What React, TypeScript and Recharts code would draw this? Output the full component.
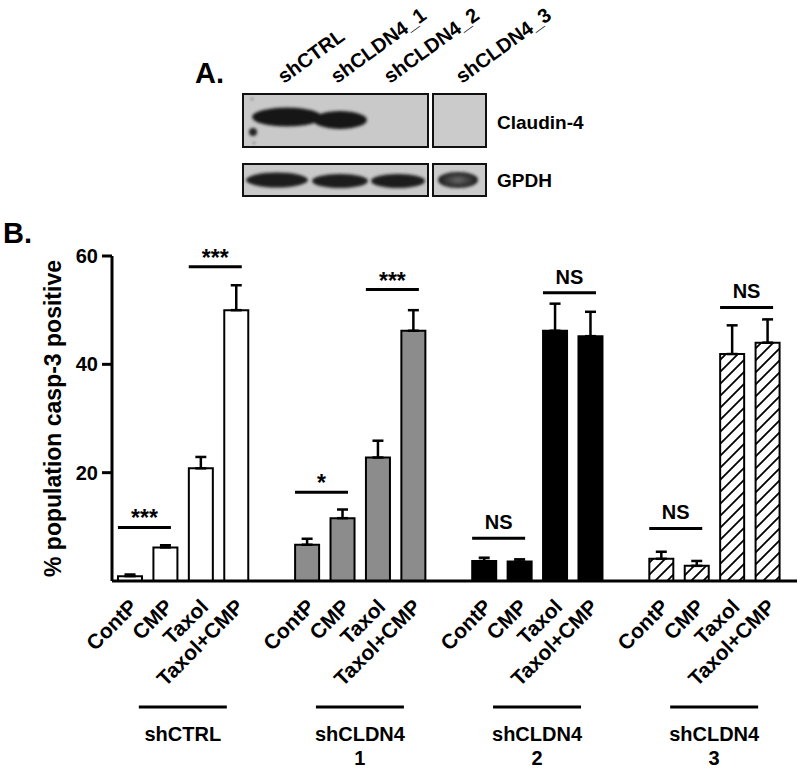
import { Bar, BarChart, Cell, ErrorBar, ReferenceLine, XAxis, YAxis } from "recharts";

const FONT = '"Liberation Sans", Arial, Helvetica, sans-serif';

// groups of cell lines and treatments
const groups = ["shCTRL", "shCLDN4_1", "shCLDN4_2", "shCLDN4_3"];
const groupCaptions = [["shCTRL"], ["shCLDN4", "1"], ["shCLDN4", "2"], ["shCLDN4", "3"]];
const treatments = ["ContP", "CMP", "Taxol", "Taxol+CMP"];

// % population casp-3 positive (mean) and upper error
const meanCtrl = [0.9, 6.2, 20.8, 50.0];
const errCtrl = [0.3, 0.4, 2.1, 4.6];
const meanKd1 = [6.7, 11.6, 22.8, 46.2];
const errKd1 = [1.1, 1.6, 3.1, 3.8];
const meanKd2 = [3.7, 3.6, 46.2, 45.2];
const errKd2 = [0.6, 0.4, 5.0, 4.5];
const meanKd3 = [4.1, 2.8, 41.9, 44.0];
const errKd3 = [1.3, 0.9, 5.3, 4.3];

const means = [meanCtrl, meanKd1, meanKd2, meanKd3];
const errs = [errCtrl, errKd1, errKd2, errKd3];

// significance brackets: ContP vs CMP, Taxol vs Taxol+CMP
const sigPairs = [[0, 1], [2, 3]];
const sigLevels = [[9.9, 58.0], [16.4, 53.8], [7.9, 53.2], [9.7, 50.5]];
const sigTexts = [["***", "***"], ["*", "***"], ["NS", "NS"], ["NS", "NS"]];

const yTicks = [20, 40, 60];

const GROUP_FILLS = ["#ffffff", "#8c8c8c", "#000000", "url(#hatch)"];
const HALF_SLOT = 17.7;

const keyOf = (gi: number, ti: number) => `${groups[gi]}|${treatments[ti]}`;

type Row = { key: string; group: number; label: string; value: number | null; err: number[] | null };

const rows: Row[] = [];
groups.forEach((g, gi) => {
  treatments.forEach((t, ti) => {
    rows.push({ key: keyOf(gi, ti), group: gi, label: t, value: means[gi][ti], err: [0, errs[gi][ti]] });
  });
  if (gi < groups.length - 1) rows.push({ key: `gap${gi}`, group: -1, label: "", value: null, err: null });
});

const XTick = ({ x, y, payload }: any) => {
  const row = rows.find((r) => r.key === payload.value);
  if (!row || row.label === "") return <g />;
  const ax = x + 9;
  const ay = y + 27;
  const cx = x + HALF_SLOT;
  const caption = groupCaptions[row.group];
  return (
    <g>
      <text
        x={ax}
        y={ay}
        transform={`rotate(-45 ${ax} ${ay})`}
        textAnchor="end"
        fontFamily={FONT}
        fontSize={21}
        fontWeight="bold"
        fill="#000"
      >
        {row.label}
      </text>
      {row.label === "CMP" && (
        <g>
          <line x1={cx - 44} x2={cx + 44} y1={y + 126} y2={y + 126} stroke="#000" strokeWidth={3} />
          {caption.map((c, i) => (
            <text
              key={i}
              x={cx}
              y={y + 160 + i * 24}
              textAnchor="middle"
              fontFamily={FONT}
              fontSize={20}
              fontWeight="bold"
              fill="#000"
            >
              {c}
            </text>
          ))}
        </g>
      )}
    </g>
  );
};

const sigShape = (text: string) => (p: any) => {
  const mid = (p.x1 + p.x2) / 2 - 3;
  const stars = text.includes("*");
  return (
    <g>
      <line x1={mid - 26.5} x2={mid + 26.5} y1={p.y1} y2={p.y1} stroke="#000" strokeWidth={3} />
      <text
        x={mid}
        y={p.y1 - (stars ? 1 : 9)}
        textAnchor="middle"
        fontFamily={FONT}
        fontSize={stars ? 23 : 20}
        fontWeight="bold"
        fill="#000"
      >
        {text}
      </text>
    </g>
  );
};

const YLabel = (props: any) => {
  const vb = props.viewBox || { x: 52, y: 256, width: 60, height: 325 };
  const lx = vb.x + 9;
  const ly = vb.y + vb.height / 2;
  return (
    <text
      x={lx}
      y={ly}
      transform={`rotate(-90 ${lx} ${ly})`}
      textAnchor="middle"
      fontFamily={FONT}
      fontSize={23}
      fontWeight="bold"
      fill="#000"
    >
      % population casp-3 positive
    </text>
  );
};

// western blot panel (A.)
const laneLabels = ["shCTRL", "shCLDN4_1", "shCLDN4_2", "shCLDN4_3"];
const laneX = [284, 337, 390, 462];

function BlotPanel() {
  return (
    <svg width={800} height={769} style={{ position: "absolute", left: 0, top: 0, pointerEvents: "none" }}>
      <defs>
        <filter id="blur" x="-20%" y="-50%" width="140%" height="200%">
          <feGaussianBlur stdDeviation="1.6" />
        </filter>
        <radialGradient id="gpdh4" cx="50%" cy="50%" r="50%">
          <stop offset="0%" stopColor="#6a6a6a" />
          <stop offset="60%" stopColor="#3a3a3a" />
          <stop offset="100%" stopColor="#1a1a1a" />
        </radialGradient>
      </defs>
      <text x={195} y={83} fontFamily={FONT} fontSize={29} fontWeight="bold" fill="#000">A.</text>
      {laneLabels.map((l, i) => (
        <text
          key={l}
          x={laneX[i]}
          y={84}
          transform={`rotate(-36 ${laneX[i]} 84)`}
          fontFamily={FONT}
          fontSize={20}
          fontWeight="bold"
          fill="#000"
        >
          {l}
        </text>
      ))}
      {/* Claudin-4 row */}
      <rect x={243} y={94} width={185} height={53} fill="#c9c9c9" stroke="#111" strokeWidth={2} />
      <rect x={433} y={94} width={53} height={53} fill="#cbcbcb" stroke="#111" strokeWidth={2} />
      <g filter="url(#blur)">
        <ellipse cx={287} cy={117} rx={35} ry={9.5} fill="#151515" />
        <ellipse cx={340} cy={120} rx={27} ry={9} fill="#151515" />
        <circle cx={253} cy={132} r={4} fill="#222" />
        <circle cx={252} cy={99} r={1} fill="#444" />
        <circle cx={254} cy={143} r={1} fill="#444" />
      </g>
      {/* GPDH row */}
      <rect x={243} y={164} width={185} height={32} fill="#c9c9c9" stroke="#111" strokeWidth={2} />
      <rect x={433} y={164} width={53} height={32} fill="#cbcbcb" stroke="#111" strokeWidth={2} />
      <g filter="url(#blur)">
        <ellipse cx={277} cy={180} rx={31} ry={7.5} fill="#1c1c1c" />
        <ellipse cx={340} cy={181} rx={28} ry={7} fill="#1c1c1c" />
        <ellipse cx={398} cy={181} rx={27} ry={7} fill="#1c1c1c" />
        <ellipse cx={458} cy={180} rx={20} ry={8} fill="url(#gpdh4)" />
      </g>
      <text x={497} y={129} fontFamily={FONT} fontSize={19} fontWeight="bold" fill="#000">Claudin-4</text>
      <text x={497} y={187} fontFamily={FONT} fontSize={19} fontWeight="bold" fill="#000">GPDH</text>
      <text x={3} y={243} fontFamily={FONT} fontSize={29} fontWeight="bold" fill="#000">B.</text>
    </svg>
  );
}

export default function App() {
  return (
    <div style={{ position: "fixed", left: 0, top: 0, width: 800, height: 769, background: "#fff" }}>
      <BlotPanel />
      <div style={{ position: "absolute", left: 0, top: 0 }}>
        <BarChart
          width={800}
          height={769}
          data={rows}
          margin={{ top: 256, right: 3, bottom: 0, left: 52 }}
          barSize={24}
        >
          <defs>
            <pattern id="hatch" patternUnits="userSpaceOnUse" width={12} height={12}>
              <rect width={12} height={12} fill="#fff" />
              <path d="M0,12 L12,0 M-3,3 L3,-3 M9,15 L15,9" stroke="#000" strokeWidth={1.8} />
            </pattern>
          </defs>
          <XAxis
            dataKey="key"
            interval={0}
            tickSize={0}
            tickMargin={0}
            height={188}
            padding={{ left: 0, right: 12 }}
            axisLine={{ stroke: "#000", strokeWidth: 3 }}
            tickLine={false}
            tick={<XTick />}
          />
          <YAxis
            width={60}
            domain={[0, 60]}
            ticks={yTicks}
            tickSize={10}
            tickMargin={4}
            axisLine={{ stroke: "#000", strokeWidth: 3 }}
            tickLine={{ stroke: "#000", strokeWidth: 3 }}
            tick={{ fill: "#000", fontSize: 20, fontWeight: "bold", fontFamily: FONT }}
            label={YLabel}
          />
          <Bar dataKey="value" stroke="#000" strokeWidth={2} isAnimationActive={false}>
            {rows.map((r) => (
              <Cell key={r.key} fill={r.group >= 0 ? GROUP_FILLS[r.group] : "none"} />
            ))}
            <ErrorBar dataKey="err" direction="y" width={5.5} stroke="#000" strokeWidth={2.5} isAnimationActive={false} />
          </Bar>
          {groups.map((g, gi) =>
            sigPairs.map((pair, pi) => (
              <ReferenceLine
                key={`${g}-${pi}`}
                segment={[
                  { x: keyOf(gi, pair[0]), y: sigLevels[gi][pi] },
                  { x: keyOf(gi, pair[1]), y: sigLevels[gi][pi] },
                ]}
                shape={sigShape(sigTexts[gi][pi])}
              />
            )),
          )}
        </BarChart>
      </div>
    </div>
  );
}
